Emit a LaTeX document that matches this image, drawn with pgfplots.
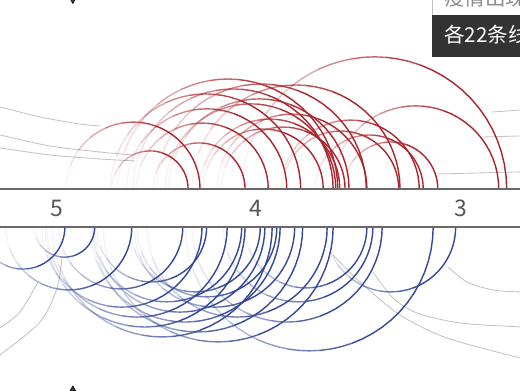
\documentclass[border=0pt]{standalone}
\usepackage{pgfplots}
\pgfplotsset{compat=1.18}
\usepackage{pgfplotstable}
\usepackage{fontspec}
\setmainfont{Noto Sans CJK SC}

\definecolor{arcred}{RGB}{172,36,44}
\definecolor{arcblue}{RGB}{52,72,152}
\definecolor{otherline}{RGB}{195,195,195}
\definecolor{bandline}{RGB}{105,105,105}
\definecolor{ticktext}{RGB}{85,85,85}
\definecolor{tipdark}{RGB}{51,51,51}

% Day numbers counted from 1 March: "to" is the solid end, "from" the faded end
\pgfplotstableread{
to   from
41.2 52.7
39.4 59.6
32.6 46.5
29.1 49.0
26.3 50.5
24.2 52.9
20.8 38.9
19.3 49.5
18.9 44.6
18.6 51.8
18.3 39.4
16.9 44.1
14.3 46.0
14.2 36.8
9.2  40.6
9.4  26.9
6.3  27.1
5.7  22.0
3.5  17.7
-5.7 19.4
-6.9 33.0
17.5 36.2
}\redarcs

\pgfplotstableread{
to   from
59.8 72.5
55.3 64.4
49.7 68.7
42.0 60.7
39.1 63.3
38.4 55.0
35.3 62.5
33.1 55.7
32.6 62.8
30.3 49.9
29.6 55.3
28.5 61.7
27.8 48.9
27.3 56.0
25.1 49.3
23.9 55.6
20.2 47.4
19.3 54.0
14.2 32.6
13.3 35.9
11.9 40.6
4.2  41.6
0.8  20.4
}\bluearcs

% half circle from #1 (solid) to #2 (faded) on base line #3, side #4 (1 above, -1 below), colour #5
\newcommand\fadearc[5]{%
  \pgfmathsetmacro\arcc{(#1+#2)/2}%
  \pgfmathsetmacro\arcr{(#2-#1)/2}%
  \foreach \ta/\tb/\op/\ns in {0/70/1/14, 70/85/0.85/4, 85/100/0.7/4, 100/115/0.55/4,
      115/130/0.4/4, 130/145/0.27/4, 145/160/0.15/4, 160/180/0.06/5}{%
    \edef\doarc{\noexpand\addplot[draw=#5, line width=1.0pt, opacity=\op,
        domain=\ta:\tb, samples=\ns]
        ({\arcc-\arcr*cos(x)}, {#3+(#4)*\arcr*sin(x)});}%
    \doarc
  }%
}

\pgfplotstablegetrowsof{\redarcs}\pgfmathtruncatemacro\nred{\pgfplotsretval-1}
\pgfplotstablegetrowsof{\bluearcs}\pgfmathtruncatemacro\nblue{\pgfplotsretval-1}

\begin{document}
\begin{tikzpicture}
\path[use as bounding box] (0,0) rectangle (13cm,9.75cm);
\clip (0,0) rectangle (13cm,9.75cm);
\begin{axis}[
  at={(0,0)}, anchor=south west, scale only axis,
  width=13cm, height=9.75cm,
  xmin=-8.91, xmax=69.60, ymin=-27.48, ymax=31.40,
  x dir=reverse,
  axis x line=middle, axis y line=none,
  x axis line style={draw=none},
  hide obscured x ticks=false,
  xtick={0,31,61}, xticklabels={3,4,5},
  major tick length=0pt,
  xticklabel style={anchor=center, font=\fontsize{16.3}{18}\selectfont, text=ticktext},
  ytick=\empty,
  /pgf/number format/assume math mode=true,
  clip=true,
]
% other routes in grey
\addplot[otherline, line width=0.6pt, smooth] coordinates {(71,15.4) (69.6,15.25) (63.56,13.74) (57.52,12.68) (54.50,12.38)};
\addplot[otherline, line width=0.6pt, smooth] coordinates {(71,11.2) (69.6,11.02) (62.05,9.36) (54.50,8.45) (49.52,8.00)};
\addplot[otherline, line width=0.6pt, smooth] coordinates {(71,9.2) (69.6,9.06) (62.05,8.00) (54.50,7.40) (49.21,7.10)};
\addplot[otherline, line width=0.6pt] coordinates {(-4.68,14.49) (-10,14.85)};
\addplot[otherline, line width=0.6pt] coordinates {(-3.32,10.72) (-10,10.90)};
\addplot[otherline, line width=0.6pt] coordinates {(3.47,5.13) (-10,5.48)};
\addplot[otherline, line width=0.6pt, smooth] coordinates {(60.24,-7.40) (60.99,-12.08) (63.56,-17.21) (69.6,-22.19) (71,-23.2)};
\addplot[otherline, line width=0.6pt, smooth] coordinates {(63.86,-11.17) (66.58,-15.70) (69.6,-18.12) (71,-19.0)};
\addplot[otherline, line width=0.6pt, smooth] coordinates {(19.32,-7.10) (15.25,-11.17) (9.21,-16.15) (2.11,-19.63) (-8.91,-22.64) (-10,-22.9)};
\addplot[otherline, line width=0.6pt, smooth] coordinates {(13.29,-9.66) (10.27,-13.59) (6.64,-15.85) (0.15,-17.36) (-8.91,-17.96) (-10,-18.0)};
\addplot[otherline, line width=0.6pt, smooth] coordinates {(1.96,-8.91) (-0.91,-11.17) (-4.83,-12.38) (-8.91,-12.68) (-10,-12.7)};

% arcs below the band
\foreach \i in {0,...,\nblue}{%
  \pgfplotstablegetelem{\i}{to}\of\bluearcs\let\arcto\pgfplotsretval
  \pgfplotstablegetelem{\i}{from}\of\bluearcs\let\arcfrom\pgfplotsretval
  \fadearc{\arcto}{\arcfrom}{-2.87}{-1}{arcblue}%
}
% arcs above the band
\foreach \i in {0,...,\nred}{%
  \pgfplotstablegetelem{\i}{to}\of\redarcs\let\arcto\pgfplotsretval
  \pgfplotstablegetelem{\i}{from}\of\redarcs\let\arcfrom\pgfplotsretval
  \fadearc{\arcto}{\arcfrom}{2.87}{1}{arcred}%
}

% edges of the date band
\addplot[bandline, line width=0.9pt] coordinates {(-10,2.87) (71,2.87)};
\addplot[bandline, line width=0.9pt] coordinates {(-10,-2.87) (71,-2.87)};

% date pointers
\addplot[only marks, mark=triangle*, mark size=2.2pt,
  mark options={rotate=180, fill=black!75, draw=none}] coordinates {(58.6,31.34)};
\addplot[only marks, mark=triangle*, mark size=2.2pt,
  mark options={fill=black!75, draw=none}] coordinates {(58.6,-27.33)};
\end{axis}

% tooltip
\begin{scope}[x=0.025cm, y=-0.025cm, shift={(0,9.75cm)}]
  \fill[white] (432,-5) rectangle (525,15);
  \draw[black!25, line width=0.5pt] (432,-5) -- (432,15);
  \node[anchor=base west, inner sep=0pt, text=black!45,
        font=\fontsize{14.6}{16}\selectfont] at (444,6) {疫情出现};
  \fill[tipdark] (432,15) rectangle (525,57);
  \node[anchor=base west, inner sep=0pt, text=white,
        font=\fontsize{14.6}{16}\selectfont] at (444,43) {各22条线};
\end{scope}
\end{tikzpicture}
\end{document}
